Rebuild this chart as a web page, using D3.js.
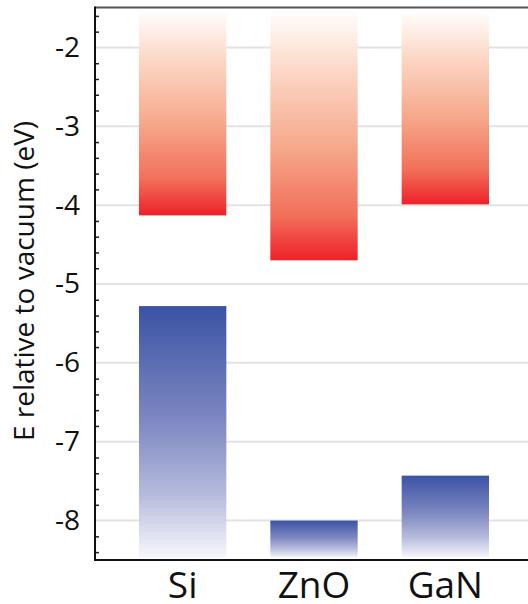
<!DOCTYPE html>
<html>
<head>
  <meta charset="utf-8"/>
  <style>
    body { margin: 0; background: #fff; }
    svg { display: block; font-family: "Open Sans", sans-serif; }
  </style>
</head>
<body>
  <div id="chart"></div>
  <script src="https://cdn.jsdelivr.net/npm/d3@7"></script>
  <script>
    // band edges relative to vacuum (eV)
    let materials = ['Si', 'ZnO', 'GaN'];
    let conductionBand = [-4.13, -4.70, -3.99];
    let valenceBand = [-5.28, -8.00, -7.43];
    let yTicks = [-8, -7, -6, -5, -4, -3, -2];
    let barTop = -1.53, barBottom = -8.47;

    let width = 528, height = 604;
    let svg = d3.select('#chart')
        .append('svg')
        .attr('width', width)
        .attr('height', height);

    let x = d3.scaleBand()
        .domain(materials)
        .range([95, 533])
        .padding(0.335);

    let y = d3.scaleLinear()
        .domain([-8.5, -1.5])
        .range([560, 8]);

    let defs = svg.append('defs');
    let red = defs.append('linearGradient')
        .attr('id', 'redGrad')
        .attr('x1', 0).attr('y1', 0).attr('x2', 0).attr('y2', 1);
    red.append('stop').attr('offset', '0%').attr('stop-color', '#ffffff');
    red.append('stop').attr('offset', '25%').attr('stop-color', '#fcd6c4');
    red.append('stop').attr('offset', '55%').attr('stop-color', '#f6a88b');
    red.append('stop').attr('offset', '82%').attr('stop-color', '#f2705a');
    red.append('stop').attr('offset', '100%').attr('stop-color', '#ee2128');

    let blue = defs.append('linearGradient')
        .attr('id', 'blueGrad')
        .attr('x1', 0).attr('y1', 0).attr('x2', 0).attr('y2', 1);
    blue.append('stop').attr('offset', '0%').attr('stop-color', '#3a53a4');
    blue.append('stop').attr('offset', '45%').attr('stop-color', '#7d87c1');
    blue.append('stop').attr('offset', '75%').attr('stop-color', '#b6bbdd');
    blue.append('stop').attr('offset', '100%').attr('stop-color', '#f7f7fc');

    // gridlines
    svg.append('g')
        .selectAll('line')
        .data(yTicks)
        .enter()
        .append('line')
        .attr('x1', 95).attr('x2', width)
        .attr('y1', d => y(d)).attr('y2', d => y(d))
        .attr('stroke', '#e2e2e2')
        .attr('stroke-width', 2);

    // conduction band bars
    svg.append('g')
        .selectAll('rect')
        .data(materials)
        .enter()
        .append('rect')
        .attr('x', d => x(d))
        .attr('width', x.bandwidth())
        .attr('y', y(barTop))
        .attr('height', (d, i) => y(conductionBand[i]) - y(barTop))
        .attr('fill', 'url(#redGrad)');

    // valence band bars
    svg.append('g')
        .selectAll('rect')
        .data(materials)
        .enter()
        .append('rect')
        .attr('x', d => x(d))
        .attr('width', x.bandwidth())
        .attr('y', (d, i) => y(valenceBand[i]))
        .attr('height', (d, i) => y(barBottom) - y(valenceBand[i]))
        .attr('fill', 'url(#blueGrad)');

    // minor ticks pointing inwards
    let minor = d3.range(-42, -7).map(i => i / 5).filter(v => Math.abs(v - Math.round(v)) > 1e-6);
    svg.append('g')
        .attr('transform', 'translate(95,0)')
        .call(d3.axisRight(y).tickValues(minor).tickSize(4).tickFormat(''))
        .call(g => g.select('.domain').remove())
        .call(g => g.selectAll('.tick line').attr('stroke', '#222').attr('stroke-width', 1.5));

    // y labels (plain hyphen like the original)
    svg.append('g')
        .attr('transform', 'translate(95,0)')
        .call(d3.axisLeft(y).tickValues(yTicks).tickSize(0).tickPadding(15).tickFormat(d => String(d)))
        .call(g => g.select('.domain').remove())
        .call(g => g.selectAll('text')
            .attr('font-size', 28)
            .attr('font-family', '"Open Sans", sans-serif')
            .attr('fill', '#111'));

    // frame
    svg.append('line')
        .attr('x1', 95).attr('x2', width).attr('y1', 7.5).attr('y2', 7.5)
        .attr('stroke', '#555').attr('stroke-width', 2);
    svg.append('line')
        .attr('x1', 95).attr('x2', width).attr('y1', 560).attr('y2', 560)
        .attr('stroke', '#111').attr('stroke-width', 2);
    svg.append('line')
        .attr('x1', 95).attr('x2', 95).attr('y1', 6.5).attr('y2', 561)
        .attr('stroke', '#111').attr('stroke-width', 2);

    // x labels
    svg.append('g')
        .selectAll('text')
        .data(materials)
        .enter()
        .append('text')
        .attr('x', d => x(d) + x.bandwidth() / 2)
        .attr('y', 598)
        .attr('text-anchor', 'middle')
        .attr('font-size', 37)
        .attr('fill', '#111')
        .text(d => d);

    // y title
    svg.append('text')
        .attr('transform', 'translate(34,' + (y(-5) - 3) + ') rotate(-90)')
        .attr('text-anchor', 'middle')
        .attr('font-size', 28)
        .attr('fill', '#111')
        .text('E relative to vacuum (eV)');
  </script>
</body>
</html>
